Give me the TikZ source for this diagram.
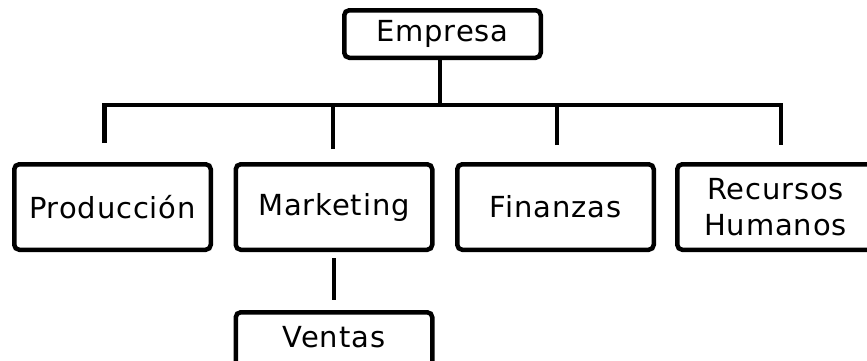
\documentclass[tikz,border=0pt]{standalone}
\usepackage{fontspec}
\setmainfont[LetterSpace=3]{DejaVu Sans}
\usetikzlibrary{calc}
\tikzset{
  box/.style={draw=black, line width=4.5pt, rounded corners=5pt, fill=white,
    minimum width=196.5pt, inner sep=0pt, align=center,
    font=\fontsize{29}{36.7}\selectfont},
  tall/.style={box, minimum height=85.5pt},
  short/.style={box, minimum height=47.5pt},
  cutbox/.style={box, minimum height=60pt, text depth=10pt},
  conn/.style={draw=black, line width=4.5pt}
}
\begin{document}
\begin{tikzpicture}[x=1pt,y=-1pt]
\useasboundingbox (0,0) rectangle (867,360);
\clip (0,0) rectangle (867,360);
\node[short] (emp) at (442.5,34) {Empresa};
\node[tall] (prod) at (112.5,207) {Producción};
\node[tall] (mkt) at (334,207) {Marketing};
\node[tall] (fin) at (555.5,207) {Finanzas};
\node[tall] (rh) at (775.5,207) {Recursos\\Humanos};
\node[cutbox] (ven) at (334,342.25) {Ventas};
\coordinate (bus) at (440,105);
\coordinate (pEnd) at ($(prod.north)+(-8,-19)$);
\coordinate (mEnd) at ($(mkt.north)+(-1,-13)$);
\coordinate (fEnd) at ($(fin.north)+(1.5,-17)$);
\coordinate (rEnd) at ($(rh.north)+(5.5,-17)$);
\coordinate (vTop) at ($(mkt.south)+(0,6)$);
\coordinate (vBot) at ($(ven.north)+(0,-10)$);
\draw[conn] (bus |- emp.south) -- (bus);
\draw[conn] (pEnd) |- (bus) -| (rEnd);
\draw[conn] (mEnd) -- (mEnd |- bus);
\draw[conn] (fEnd) -- (fEnd |- bus);
\draw[conn] (vTop) -- (vBot);
\end{tikzpicture}
\end{document}
